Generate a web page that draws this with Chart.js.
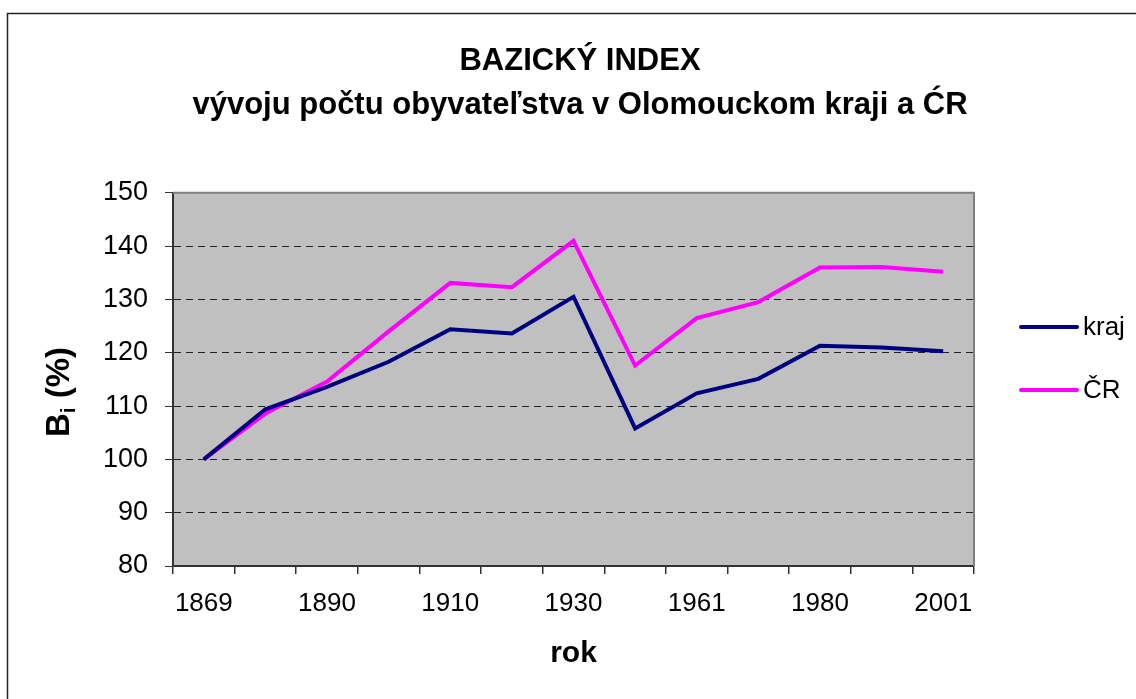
<!DOCTYPE html>
<html>
<head>
<meta charset="utf-8">
<script src="https://cdn.jsdelivr.net/npm/chart.js@4.4.0/dist/chart.umd.min.js"></script>
<style>
  html, body { margin: 0; background: #fff; }
</style>
</head>
<body>
<canvas id="ch" width="1136" height="699"></canvas>
<script>
// values
const years = ['1869', '1880', '1890', '1900', '1910', '1921', '1930', '1950', '1961', '1970', '1980', '1991', '2001'];
const kraj = [100, 109.4, 113.6, 118.3, 124.4, 123.6, 130.5, 105.8, 112.4, 115.1, 121.3, 121.0, 120.3];
const cr = [100, 108.6, 114.6, 124.0, 133.1, 132.3, 141.0, 117.6, 126.5, 129.5, 136.0, 136.1, 135.2];
const shownYears = ['1869', '1890', '1910', '1930', '1961', '1980', '2001'];
const yMin = 80, yMax = 150, yStep = 10;

const FONT = "'Liberation Sans', Arial, sans-serif";

// grey plot background + outer frame lines
const plotBg = {
  id: 'plotBg',
  beforeDraw(chart) {
    const { ctx, chartArea: a } = chart;
    ctx.save();
    ctx.fillStyle = '#C0C0C0';
    ctx.fillRect(a.left, a.top, a.right - a.left, a.bottom - a.top);
    // outer border (only left/top fall inside the picture)
    ctx.strokeStyle = '#222';
    ctx.lineWidth = 1.5;
    ctx.beginPath();
    ctx.moveTo(7.5, 699);
    ctx.lineTo(7.5, 13.5);
    ctx.lineTo(1136, 13.5);
    ctx.stroke();
    ctx.restore();
  },
  afterDraw(chart) {
    const { ctx, chartArea: a } = chart;
    ctx.save();
    ctx.strokeStyle = '#808080';
    ctx.lineWidth = 2;
    ctx.beginPath();
    ctx.moveTo(a.left, a.top);
    ctx.lineTo(a.right, a.top);
    ctx.lineTo(a.right, a.bottom);
    ctx.stroke();
    ctx.restore();
  }
};

// "B" with subscript "i", rotated
const yTitle = {
  id: 'yTitle',
  afterDraw(chart) {
    const { ctx } = chart;
    const big = 'bold 33px ' + FONT, small = 'bold 21px ' + FONT;
    ctx.save();
    ctx.font = big;
    const wB = ctx.measureText('B').width;
    const wRest = ctx.measureText(' (%)').width;
    ctx.font = small;
    const wi = ctx.measureText('i').width;
    const total = wB + wi + wRest;
    ctx.translate(69, 392);
    ctx.rotate(-Math.PI / 2);
    ctx.fillStyle = '#000';
    ctx.textBaseline = 'alphabetic';
    let x = -total / 2;
    ctx.font = big;
    ctx.fillText('B', x, 0);
    x += wB;
    ctx.font = small;
    ctx.fillText('i', x, 6);
    x += wi;
    ctx.font = big;
    ctx.fillText(' (%)', x, 0);
    ctx.restore();
  }
};

// legend on the right
const sideLegend = {
  id: 'sideLegend',
  afterDraw(chart) {
    const { ctx } = chart;
    const rows = [327, 390];
    ctx.save();
    ctx.font = '26px ' + FONT;
    ctx.textBaseline = 'middle';
    ctx.lineCap = 'round';
    chart.data.datasets.forEach((ds, i) => {
      const y = rows[i];
      ctx.strokeStyle = ds.borderColor;
      ctx.lineWidth = 4;
      ctx.beginPath();
      ctx.moveTo(1021, y);
      ctx.lineTo(1077, y);
      ctx.stroke();
      ctx.fillStyle = '#000';
      ctx.fillText(ds.label, 1083, y + 1);
    });
    ctx.restore();
  }
};

new Chart(document.getElementById('ch'), {
  type: 'line',
  data: {
    labels: years,
    datasets: [
      { label: 'kraj', data: kraj, borderColor: '#000080', borderWidth: 4, pointRadius: 0, tension: 0, yAxisID: 'y' },
      { label: 'ČR', data: cr, borderColor: '#FF00FF', borderWidth: 4, pointRadius: 0, tension: 0, yAxisID: 'y' }
    ]
  },
  options: {
    responsive: false,
    devicePixelRatio: 1,
    animation: false,
    layout: { padding: { left: 24, right: 0, top: 0, bottom: 0 } },
    plugins: {
      legend: { display: false },
      tooltip: { enabled: false },
      title: {
        display: true,
        text: ['BAZICKÝ INDEX', 'vývoju počtu obyvateľstva v Olomouckom kraji a ĆR'],
        color: '#000',
        font: { family: FONT, size: 31, weight: 'bold', lineHeight: 1.4 },
        padding: { top: 40, bottom: 66 }
      }
    },
    scales: {
      x: {
        type: 'category',
        offset: true,
        grid: { offset: true, drawOnChartArea: false, color: '#333', lineWidth: 1.5, tickLength: 8 },
        border: { color: '#333', width: 2 },
        ticks: {
          autoSkip: false,
          maxRotation: 0,
          color: '#000',
          font: { family: FONT, size: 26 },
          padding: 14,
          callback: (v, i) => shownYears.includes(years[i]) ? years[i] : ''
        },
        title: {
          display: true,
          text: 'rok',
          color: '#000',
          font: { family: FONT, size: 30, weight: 'bold' },
          padding: { top: 0, bottom: 27 }
        },
        afterFit: s => { s.height = 133; }
      },
      y: {
        min: yMin,
        max: yMax,
        grid: {
          color: c => (c.tick && (c.tick.value === yMin || c.tick.value === yMax)) ? 'rgba(0,0,0,0)' : '#222',
          tickColor: '#333',
          tickLength: 8,
          tickBorderDash: [],
          lineWidth: 1
        },
        border: { color: '#333', width: 2, dash: [7, 5] },
        ticks: { stepSize: yStep, color: '#000', font: { family: FONT, size: 27 }, padding: 17 },
        afterFit: s => { s.width = 149; }
      },
      y2: {
        position: 'right',
        display: true,
        grid: { display: false },
        border: { display: false },
        ticks: { display: false },
        afterFit: s => { s.width = 162; }
      }
    }
  },
  plugins: [plotBg, yTitle, sideLegend]
});
</script>
</body>
</html>
